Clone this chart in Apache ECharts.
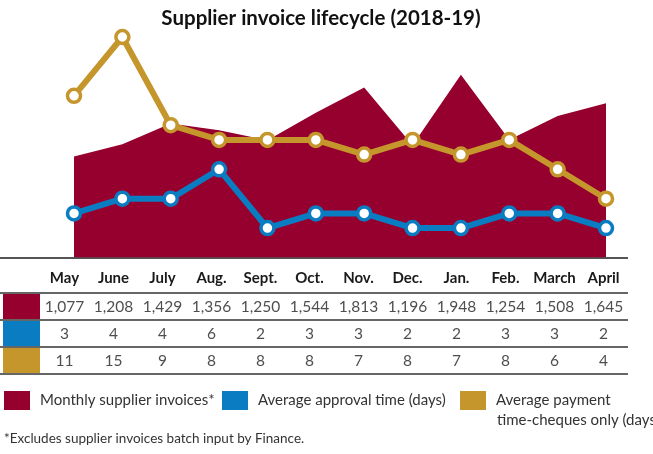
<!DOCTYPE html>
<html lang="en">
<head>
<meta charset="UTF-8">
<script src="https://cdn.jsdelivr.net/npm/echarts@6/dist/echarts.min.js"></script>
<title>Supplier invoice lifecycle</title>
<style>
    html, body { margin: 0; padding: 0; background: #fff; }
    #chart { width: 653px; height: 454px; }
</style>
</head>
<body>
<div id="chart"></div>
<script>
    // data
    let months = ['May', 'June', 'July', 'Aug.', 'Sept.', 'Oct.', 'Nov.', 'Dec.', 'Jan.', 'Feb.', 'March', 'April'];
    let invoices = [1077, 1208, 1429, 1356, 1250, 1544, 1813, 1196, 1948, 1254, 1508, 1645];
    let approvalDays = [3, 4, 4, 6, 2, 3, 3, 2, 2, 3, 3, 2];
    let paymentDays = [11, 15, 9, 8, 8, 8, 7, 8, 7, 8, 6, 4];
    let seriesNames = ['Monthly supplier invoices*', 'Average approval time (days)', 'Average payment\ntime-cheques only (days)'];
    let colors = ['#96002f', '#0a7dc2', '#c4962c'];

    let font = "Lato, 'Liberation Sans', sans-serif";
    let rows = [invoices, approvalDays, paymentDays];

    function lineSeries(idx, data) {
        return {
            name: seriesNames[idx],
            type: 'line',
            xAxisIndex: 0,
            yAxisIndex: 1,
            data: data,
            symbol: 'circle',
            symbolSize: 13,
            lineStyle: { color: colors[idx], width: 6 },
            itemStyle: { color: '#fff', borderColor: colors[idx], borderWidth: 3.5 },
            z: 3 + idx,
            silent: true
        };
    }

    let tableSeries = rows.map(function (row, r) {
        return {
            name: 'row' + r,
            type: 'scatter',
            xAxisIndex: 1,
            yAxisIndex: 2,
            symbolSize: 0,
            silent: true,
            data: row.map(function (v, i) { return [i, r, v]; }),
            label: {
                show: true,
                position: 'inside',
                color: '#222',
                fontFamily: font,
                fontSize: 15.5,
                formatter: function (p) { return p.value[2].toLocaleString('en-US'); }
            }
        };
    });

    function legendAt(left, idx, extra) {
        return Object.assign({
            left: left,
            top: 391,
            padding: 0,
            icon: 'rect',
            itemWidth: 26,
            itemHeight: 19,
            selectedMode: false,
            data: [{ name: seriesNames[idx], itemStyle: { color: colors[idx], borderWidth: 0 } }],
            textStyle: { color: '#333', fontFamily: font, fontSize: 15, padding: [0, 0, 0, 5] }
        }, extra || {});
    }

    let swatchRich = {};
    colors.forEach(function (c, i) {
        swatchRich['s' + i] = { width: 37, height: 25, backgroundColor: c };
    });

    let option = {
        backgroundColor: '#fff',
        animation: false,
        title: {
            text: 'Supplier invoice lifecycle (2018-19)',
            left: 316,
            textAlign: 'center',
            top: 3,
            textStyle: { fontFamily: font, fontSize: 20.5, fontWeight: 'bold', color: '#111' }
        },
        legend: [
            legendAt(4, 0),
            legendAt(222, 1),
            // second line of this name is drawn as a plain text below
            legendAt(460, 2, { formatter: function (name) { return name.split('\n')[0]; } })
        ],
        grid: [
            { left: 74, right: 47, top: 37, bottom: 196.5 },
            { left: 37, right: 25, top: 293, bottom: 80 }
        ],
        xAxis: [
            {
                gridIndex: 0, type: 'category', data: months, boundaryGap: false,
                axisLine: { show: false }, axisTick: { show: false }, axisLabel: { show: false }
            },
            {
                gridIndex: 1, type: 'category', data: months, position: 'top',
                axisLine: { show: false }, axisTick: { show: false },
                axisLabel: { interval: 0, margin: 7, color: '#1a1a1a', fontFamily: font, fontSize: 15, fontWeight: 'bold' }
            }
        ],
        yAxis: [
            { gridIndex: 0, type: 'value', min: 0, max: 2350, show: false },
            { gridIndex: 0, type: 'value', min: 0, max: 15, show: false },
            {
                gridIndex: 1, type: 'category', data: ['inv', 'appr', 'pay'], inverse: true,
                axisLine: { show: false }, axisTick: { show: false }, splitLine: { show: false },
                axisLabel: {
                    margin: 0,
                    formatter: function (v, i) { return '{s' + i + '| }'; },
                    rich: swatchRich
                }
            }
        ],
        graphic: [
            { type: 'line', shape: { x1: 0, y1: 258, x2: 628, y2: 258 }, style: { stroke: '#555', lineWidth: 2 } },
            { type: 'line', shape: { x1: 0, y1: 293, x2: 628, y2: 293 }, style: { stroke: '#333', lineWidth: 1.5 } },
            { type: 'line', shape: { x1: 0, y1: 320, x2: 628, y2: 320 }, style: { stroke: '#333', lineWidth: 1.5 } },
            { type: 'line', shape: { x1: 0, y1: 347, x2: 628, y2: 347 }, style: { stroke: '#333', lineWidth: 1.5 } },
            { type: 'line', shape: { x1: 0, y1: 374, x2: 628, y2: 374 }, style: { stroke: '#333', lineWidth: 1.5 } },
            {
                type: 'text', left: 497, top: 413,
                style: { text: seriesNames[2].split('\n')[1], fill: '#333', font: '15px ' + font }
            },
            {
                type: 'text', left: 4, top: 432,
                style: { text: '*Excludes supplier invoices batch input by Finance.', fill: '#333', font: '13.5px ' + font }
            }
        ],
        series: [
            {
                name: seriesNames[0],
                type: 'line',
                xAxisIndex: 0,
                yAxisIndex: 0,
                data: invoices,
                symbol: 'none',
                lineStyle: { width: 0 },
                itemStyle: { color: colors[0] },
                areaStyle: { color: colors[0], opacity: 1 },
                z: 1,
                silent: true
            },
            lineSeries(1, approvalDays),
            lineSeries(2, paymentDays)
        ].concat(tableSeries)
    };

    let myChart = echarts.init(document.getElementById('chart'));
    myChart.setOption(option);
</script>
</body>
</html>
